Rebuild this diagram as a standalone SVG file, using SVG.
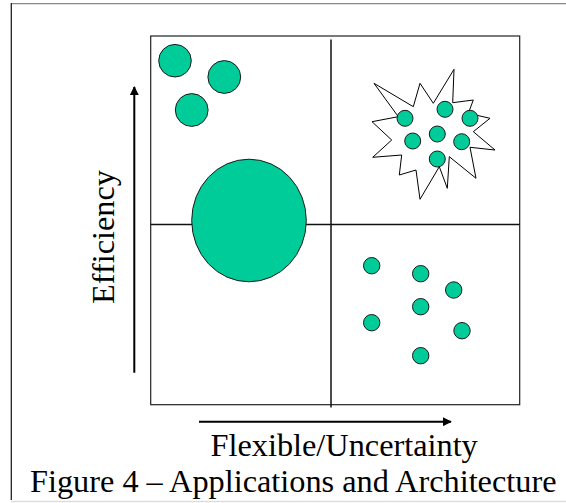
<svg xmlns="http://www.w3.org/2000/svg" width="566" height="503" viewBox="0 0 566 503">
<style>
.dot{fill:#00CC99;stroke:#1a1a1a;stroke-width:1}
.lbl{font-family:"Liberation Serif","Times New Roman",serif;font-size:32.3px;fill:#000}
.ax{stroke:#000;stroke-width:2;fill:none}
.div{stroke:#111;stroke-width:1.5}
</style>
<defs>
<marker id="ah" viewBox="0 0 10 10" refX="9" refY="5" markerWidth="4.5" markerHeight="4.5" orient="auto" markerUnits="strokeWidth">
<path d="M0,0 L10,5 L0,10 z" fill="#000"/>
</marker>
</defs>
<rect width="566" height="503" fill="#fff"/>
<g id="frame">
<line x1="11" y1="3.7" x2="566" y2="3.7" stroke="#888" stroke-width="1.3"/>
<line x1="11.3" y1="3" x2="11.3" y2="500" stroke="#222" stroke-width="1.3"/>
<line x1="11" y1="501.5" x2="566" y2="501.5" stroke="#ddd" stroke-width="1.5"/>
</g>
<g id="quadrant-box">
<rect x="150.7" y="36" width="369" height="368.7" fill="#fff" stroke="#222" stroke-width="1.2"/>
</g>
<g id="connectors">
<line class="div" x1="331" y1="39.5" x2="331" y2="407.5"/>
<line class="div" x1="150.7" y1="224.5" x2="519.7" y2="224.5"/>
<line class="ax" x1="134.3" y1="372.7" x2="134.3" y2="87" marker-end="url(#ah)"/>
<line class="ax" x1="199" y1="421.7" x2="451" y2="421.7" marker-end="url(#ah)"/>
</g>
<g id="top-left">
<circle class="dot" cx="175" cy="60.7" r="16.3"/>
<circle class="dot" cx="224.3" cy="77" r="16.4"/>
<circle class="dot" cx="191.7" cy="110" r="16.4"/>
</g>
<g id="center-ellipse">
<ellipse class="dot" cx="249" cy="220.5" rx="57.3" ry="61.3"/>
</g>
<g id="starburst">
<polygon points="374,83.3 413.3,106.7 420,83.3 433.3,103.3 454,69.3 452.7,102.7 473.3,100 468.3,113.3 490,118.3 473.3,131.7 495,150 470,147.3 476,178.3 449.3,156.7 447.3,188.3 439.3,166.7 420,199.3 416,170 399.3,175 401.7,155 372.7,157.3 391.7,140 372,121.7 398.3,116.7" fill="#fff" stroke="#000" stroke-width="1"/>
<circle class="dot" cx="405" cy="118.3" r="8"/>
<circle class="dot" cx="445" cy="109.3" r="8"/>
<circle class="dot" cx="470" cy="118.3" r="8"/>
<circle class="dot" cx="437.3" cy="134" r="8"/>
<circle class="dot" cx="412.7" cy="141" r="8"/>
<circle class="dot" cx="461.7" cy="141.7" r="8"/>
<circle class="dot" cx="437.3" cy="159" r="8"/>
</g>
<g id="bottom-right">
<circle class="dot" cx="371.7" cy="265.7" r="8.2"/>
<circle class="dot" cx="420.7" cy="273.7" r="8.2"/>
<circle class="dot" cx="453.7" cy="290" r="8.2"/>
<circle class="dot" cx="420.7" cy="306.7" r="8.2"/>
<circle class="dot" cx="371.7" cy="322.7" r="8.2"/>
<circle class="dot" cx="462" cy="330.7" r="8.2"/>
<circle class="dot" cx="420.7" cy="355.7" r="8.2"/>
</g>
<g id="labels">
<text class="lbl" transform="translate(114,237) rotate(-90)" text-anchor="middle">Efficiency</text>
<text class="lbl" x="210.5" y="456">Flexible/Uncertainty</text>
<text class="lbl" x="30" y="491.5">Figure 4 – Applications and Architecture</text>
</g>
</svg>
